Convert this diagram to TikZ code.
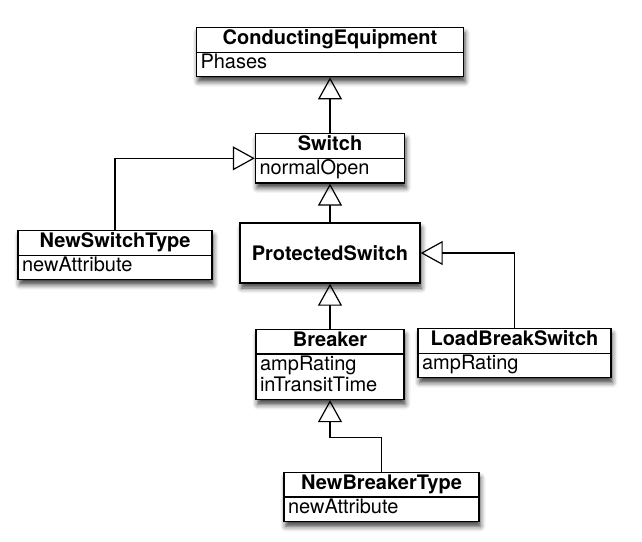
\documentclass[tikz,border=0pt]{standalone}
\usepackage{fontspec}
\setmainfont{TeX Gyre Heros}
\usetikzlibrary{shapes.multipart,arrows.meta,shadows.blur}
\newcommand{\classfont}{\fontsize{20}{21}\selectfont}
\newcommand{\classhead}[1]{\hbox to\hsize{\hfil\textbf{#1}\strut\hfil}}
\tikzset{
  umlshadow/.style={blur shadow={shadow xshift=1.5pt, shadow yshift=-5pt,
      shadow blur radius=5pt, shadow opacity=75}},
  umlclass/.style={rectangle split, rectangle split parts=2, draw,
      line width=1.4pt, fill=white, inner xsep=4pt, inner ysep=1pt,
      font=\classfont, umlshadow},
  umlplain/.style={draw, line width=1.4pt, fill=white, font=\classfont\bfseries,
      umlshadow},
  inherit/.style={line width=1.2pt,
      -{Triangle[open, width=24pt, length=22pt, line width=1.2pt]}},
}
\begin{document}
\begin{tikzpicture}[x=1pt, y=-1pt]
    \useasboundingbox (0,0) rectangle (642,541);

    % classes
    \node [umlclass, text width=259pt, anchor=north] (ce) at (330,27)
      {\classhead{ConductingEquipment}\nodepart{two}Phases\strut};
    \node [umlclass, text width=141pt, anchor=north] (sw) at (330,133)
      {\classhead{Switch}\nodepart{two}normalOpen\strut};
    \node [umlclass, text width=186pt, anchor=north] (nst) at (115,230)
      {\classhead{NewSwitchType}\nodepart{two}newAttribute\strut};
    \node [umlplain, minimum width=180pt, minimum height=60pt] (ps) at (330,253)
      {ProtectedSwitch};
    \node [umlclass, text width=140pt, anchor=north] (br) at (330,329)
      {\classhead{Breaker}\nodepart{two}ampRating\strut\\inTransitTime\strut};
    \node [umlclass, text width=185pt, anchor=north] (lbs) at (514.5,328)
      {\classhead{LoadBreakSwitch}\nodepart{two}ampRating\strut};
    \node [umlclass, text width=187pt, anchor=north] (nbt) at (381.5,472)
      {\classhead{NewBreakerType}\nodepart{two}newAttribute\strut};

    % generalisations
    \draw [inherit] (sw.north) -- (ce.south);
    \draw [inherit] (nst.north) |- (sw.west);
    \draw [inherit] (ps.north) -- (sw.south);
    \draw [inherit] (br.north) -- (ps.south);
    \draw [inherit] (lbs.north) |- (ps.east);
    \draw [inherit] (nbt.north) |- ([yshift=-37pt]br.south) -- (br.south);
\end{tikzpicture}
\end{document}
